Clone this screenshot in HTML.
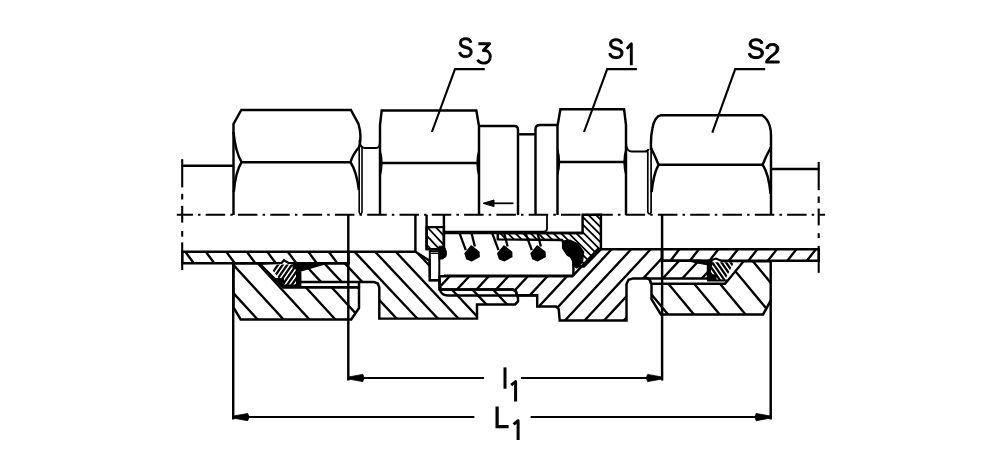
<!DOCTYPE html>
<html><head><meta charset="utf-8"><style>
html,body{margin:0;padding:0;background:#fff;}
body{width:1000px;height:460px;overflow:hidden;font-family:"Liberation Sans",sans-serif;}
svg{display:block;}
</style></head><body>
<svg width="1000" height="460" viewBox="0 0 1000 460"><defs><filter id="soft" x="0" y="0" width="1000" height="460" filterUnits="userSpaceOnUse"><feGaussianBlur stdDeviation="0.35"/></filter><clipPath id="c1"><path d="M182.3 251.8L348.3 251.8L348.3 263.3L182.3 263.3Z"/></clipPath><clipPath id="c2"><path d="M662.0 249.2L818.8 249.2L818.8 260.8L662.0 260.8Z"/></clipPath><clipPath id="c3"><path d="M233.5 263.3L259.8 263.3L283.0 287.2L359.0 287.2L359.0 308.0L351.2 319.5L240.7 319.5L233.5 307.4Z"/></clipPath><clipPath id="c4"><path d="M348.3 251.8L415.4 251.8L429.5 260.8L429.8 280.2L439.5 280.2L439.5 289.5L513.0 289.5L516.0 291.5L517.0 295.2L518.0 298.0L518.0 301.5L515.0 304.4L477.0 304.4L477.0 318.6L379.3 318.6L379.3 287.5L377.8 283.5L374.0 282.0L300.0 282.0L300.0 270.5L325.0 263.3L348.3 263.3Z"/></clipPath><clipPath id="c5"><path d="M439.5 276.3L572.4 276.3L597.8 249.2L662.0 249.2L662.0 260.8L700.0 260.8L708.0 262.0L708.0 278.4L633.0 278.4L628.5 279.8L626.5 284.0L626.5 320.4L559.7 320.4L558.7 309.0L556.0 306.5L537.2 306.5L537.2 295.2L517.0 295.2L516.0 291.5L513.0 289.5L442.0 289.5L439.5 287.0Z"/></clipPath><clipPath id="c6"><path d="M651.5 283.7L725.0 283.7L743.5 261.2L770.7 261.2L770.7 300.6L763.1 314.4L660.9 314.4L651.5 299.1Z"/></clipPath><clipPath id="c7"><path d="M426.6 227.1L443.9 227.1L443.9 249.3L426.6 249.3Z"/></clipPath><clipPath id="c8"><path d="M582.6 214.8L600.9 214.8L600.9 249.2L584.0 266.5L576.0 266.0L562.0 240.0L497.8 239.4L497.8 233.0L582.6 233.0Z"/></clipPath><clipPath id="c9"><path d="M268 264.5 L299 264.5 L299 285 L284 285 Z"/></clipPath><clipPath id="c10"><path d="M709 262.2 L734 262.2 L725 280 L709 280 Z"/></clipPath></defs><rect width="1000" height="460" fill="#fff"/><g filter="url(#soft)"><g stroke="#000" stroke-linecap="butt" stroke-linejoin="miter" fill="none"><path d="M142.8 249.8L154.4 265.3M163.3 249.8L174.9 265.3M183.8 249.8L195.4 265.3M204.3 249.8L215.9 265.3M224.8 249.8L236.4 265.3M245.3 249.8L256.9 265.3M265.8 249.8L277.4 265.3M286.3 249.8L297.9 265.3M306.8 249.8L318.4 265.3M327.3 249.8L338.9 265.3M347.8 249.8L359.4 265.3M368.3 249.8L379.9 265.3M388.8 249.8L400.4 265.3" stroke="#000" stroke-width="2.35" fill="none" clip-path="url(#c1)"/><polygon points="182.3,251.8 348.3,251.8 348.3,263.3 182.3,263.3" fill="none" stroke-width="2.45" /><path d="M622.5 247.2L610.3 262.8M642.0 247.2L629.8 262.8M661.5 247.2L649.3 262.8M681.0 247.2L668.8 262.8M700.5 247.2L688.3 262.8M720.0 247.2L707.8 262.8M739.5 247.2L727.3 262.8M759.0 247.2L746.8 262.8M778.5 247.2L766.3 262.8M798.0 247.2L785.8 262.8M817.5 247.2L805.3 262.8M837.0 247.2L824.8 262.8M856.5 247.2L844.3 262.8" stroke="#000" stroke-width="2.35" fill="none" clip-path="url(#c2)"/><polygon points="662.0,249.2 818.8,249.2 818.8,260.8 662.0,260.8" fill="none" stroke-width="2.45" /><path d="M126.5 261.3L181.8 321.5M152.4 261.3L207.7 321.5M178.3 261.3L233.6 321.5M204.2 261.3L259.5 321.5M230.1 261.3L285.4 321.5M256.0 261.3L311.3 321.5M281.9 261.3L337.2 321.5M307.8 261.3L363.1 321.5M333.7 261.3L389.0 321.5M359.6 261.3L414.9 321.5M385.5 261.3L440.8 321.5M411.4 261.3L466.7 321.5" stroke="#000" stroke-width="2.35" fill="none" clip-path="url(#c3)"/><polygon points="233.5,263.3 259.8,263.3 283.0,287.2 359.0,287.2 359.0,308.0 351.2,319.5 240.7,319.5 233.5,307.4" fill="none" stroke-width="2.45" /><path d="M208.5 249.8L275.0 320.6M229.1 249.8L295.6 320.6M249.7 249.8L316.2 320.6M270.3 249.8L336.8 320.6M290.9 249.8L357.4 320.6M311.5 249.8L378.0 320.6M332.1 249.8L398.6 320.6M352.7 249.8L419.2 320.6M373.3 249.8L439.8 320.6M393.9 249.8L460.4 320.6M414.5 249.8L481.0 320.6M435.1 249.8L501.6 320.6M455.7 249.8L522.2 320.6M476.3 249.8L542.8 320.6M496.9 249.8L563.4 320.6M517.5 249.8L584.0 320.6M538.1 249.8L604.6 320.6M558.7 249.8L625.2 320.6" stroke="#000" stroke-width="2.35" fill="none" clip-path="url(#c4)"/><polygon points="348.3,251.8 415.4,251.8 429.5,260.8 429.8,280.2 439.5,280.2 439.5,289.5 513.0,289.5 516.0,291.5 517.0,295.2 518.0,298.0 518.0,301.5 515.0,304.4 477.0,304.4 477.0,318.6 379.3,318.6 379.3,287.5 377.8,283.5 374.0,282.0 300.0,282.0 300.0,270.5 325.0,263.3 348.3,263.3" fill="none" stroke-width="2.45" /><path d="M439.5 287 Q440 295.4 448 295.4 L537.2 295.4" fill="none" stroke-width="2.45" /><path d="M398.5 247.2L328.6 322.4M418.0 247.2L348.2 322.4M437.6 247.2L367.7 322.4M457.1 247.2L387.3 322.4M476.7 247.2L406.8 322.4M496.2 247.2L426.4 322.4M515.8 247.2L445.9 322.4M535.3 247.2L465.5 322.4M554.9 247.2L485.0 322.4M574.4 247.2L504.6 322.4M594.0 247.2L524.1 322.4M613.5 247.2L543.7 322.4M633.1 247.2L563.2 322.4M652.6 247.2L582.8 322.4M672.2 247.2L602.3 322.4M691.7 247.2L621.9 322.4M711.3 247.2L641.4 322.4M730.8 247.2L661.0 322.4M750.4 247.2L680.5 322.4M769.9 247.2L700.1 322.4M789.5 247.2L719.6 322.4M809.0 247.2L739.2 322.4" stroke="#000" stroke-width="2.35" fill="none" clip-path="url(#c5)"/><polygon points="439.5,276.3 572.4,276.3 597.8,249.2 662.0,249.2 662.0,260.8 700.0,260.8 708.0,262.0 708.0,278.4 633.0,278.4 628.5,279.8 626.5,284.0 626.5,320.4 559.7,320.4 558.7,309.0 556.0,306.5 537.2,306.5 537.2,295.2 517.0,295.2 516.0,291.5 513.0,289.5 442.0,289.5 439.5,287.0" fill="none" stroke-width="2.45" /><path d="M570.6 259.2L618.1 316.4M596.4 259.2L643.9 316.4M622.2 259.2L669.7 316.4M648.0 259.2L695.5 316.4M673.8 259.2L721.3 316.4M699.6 259.2L747.1 316.4M725.4 259.2L772.9 316.4M751.2 259.2L798.7 316.4M777.0 259.2L824.5 316.4M802.8 259.2L850.3 316.4" stroke="#000" stroke-width="2.35" fill="none" clip-path="url(#c6)"/><polygon points="651.5,283.7 725.0,283.7 743.5,261.2 770.7,261.2 770.7,300.6 763.1,314.4 660.9,314.4 651.5,299.1" fill="none" stroke-width="2.45" /><path d="M645 277.8 Q650.7 278 650.7 283.7" fill="none" stroke-width="2.45" /><line x1="283" y1="287.2" x2="359" y2="287.2" stroke-width="2.45" /><line x1="359" y1="287.2" x2="359" y2="282" stroke-width="2.45" /><line x1="415.4" y1="214.8" x2="415.4" y2="251.8" stroke-width="2.45" /><path d="M391.4 225.1L415.8 251.3M399.9 225.1L424.3 251.3M408.4 225.1L432.8 251.3M416.9 225.1L441.3 251.3M425.4 225.1L449.8 251.3M433.9 225.1L458.3 251.3M442.4 225.1L466.8 251.3M450.9 225.1L475.3 251.3M459.4 225.1L483.8 251.3" stroke="#000" stroke-width="1.8" fill="none" clip-path="url(#c7)"/><polygon points="426.6,227.1 443.9,227.1 443.9,249.3 426.6,249.3" fill="none" stroke-width="2.45" /><line x1="426.6" y1="214.8" x2="426.6" y2="249.5" stroke-width="2.45" /><line x1="443.9" y1="214.8" x2="443.9" y2="249.5" stroke-width="2.45" /><polygon points="429.8,251.2 439.3,251.2 439.3,280.2 429.8,280.2" fill="none" stroke-width="2.0" /><line x1="430.5" y1="253.4" x2="438.6" y2="253.4" stroke-width="1.2" /><line x1="443.9" y1="233.0" x2="582.6" y2="233.0" stroke-width="2.45" /><line x1="443.9" y1="275.6" x2="572.4" y2="275.6" stroke-width="2.45" /><path d="M547 214.8 L547 228.5 Q547 231.6 544 231.6 L444 231.6" fill="none" stroke-width="1.8" /><path d="M426.6 212.8L482.3 268.5M434.2 212.8L489.9 268.5M441.8 212.8L497.5 268.5M449.4 212.8L505.1 268.5M457.0 212.8L512.7 268.5M464.6 212.8L520.3 268.5M472.2 212.8L527.9 268.5M479.8 212.8L535.5 268.5M487.4 212.8L543.1 268.5M495.0 212.8L550.7 268.5M502.6 212.8L558.3 268.5M510.2 212.8L565.9 268.5M517.8 212.8L573.5 268.5M525.4 212.8L581.1 268.5M533.0 212.8L588.7 268.5M540.6 212.8L596.3 268.5M548.2 212.8L603.9 268.5M555.8 212.8L611.5 268.5M563.4 212.8L619.1 268.5M571.0 212.8L626.7 268.5M578.6 212.8L634.3 268.5M586.2 212.8L641.9 268.5M593.8 212.8L649.5 268.5M601.4 212.8L657.1 268.5M609.0 212.8L664.7 268.5M616.6 212.8L672.3 268.5" stroke="#000" stroke-width="1.8" fill="none" clip-path="url(#c8)"/><polygon points="582.6,214.8 600.9,214.8 600.9,249.2 584.0,266.5 576.0,266.0 562.0,240.0 497.8,239.4 497.8,233.0 582.6,233.0" fill="none" stroke-width="2.45" /><line x1="573.4" y1="259.5" x2="573.4" y2="276" stroke-width="2.45" /><line x1="459.6" y1="233.4" x2="465.8" y2="250.2" stroke-width="2.3" /><line x1="471.7" y1="233.8" x2="474.90000000000003" y2="246.5" stroke-width="2.3" /><polygon points="465.1,253.5 471.3,246.0 478.9,252.0 479.1,256.7 471.8,260.7 466.8,258.7" fill="#000" stroke-width="1.5" stroke-linejoin="round"/><line x1="492.3" y1="233.4" x2="498.5" y2="250.2" stroke-width="2.3" /><line x1="504.4" y1="233.8" x2="507.6" y2="246.5" stroke-width="2.3" /><polygon points="497.8,253.5 504.0,246.0 511.6,252.0 511.8,256.7 504.5,260.7 499.5,258.7" fill="#000" stroke-width="1.5" stroke-linejoin="round"/><line x1="525.5999999999999" y1="233.4" x2="531.8" y2="250.2" stroke-width="2.3" /><line x1="537.6999999999999" y1="233.8" x2="540.9" y2="246.5" stroke-width="2.3" /><polygon points="531.1,253.5 537.3,246.0 544.9,252.0 545.1,256.7 537.8,260.7 532.8,258.7" fill="#000" stroke-width="1.5" stroke-linejoin="round"/><path d="M439 246.2 L444 246.2 Q447.8 251.5 446 256.5 Q443 259.8 439 259.2 Z" fill="#000" stroke-width="1" /><path d="M562.5 241 L570 240 L578 244 L583.7 252 L582.5 262 L577 268 L573.4 266 L572.8 258.5 L567 255 L562.5 248 Z" fill="#000" stroke-width="1.2" /><path d="M259.8 263.8 L281.5 263 L284 260.2 L288.5 263 L300 263 L300.3 285.6 L281.5 285.6 Z" fill="#fff" stroke-width="2.2" /><path d="M262.0 288L280.0 262M266.6 288L284.6 262M271.2 288L289.2 262M275.8 288L293.8 262M280.4 288L298.4 262M285.0 288L303.0 262M289.6 288L307.6 262M294.2 288L312.2 262M298.8 288L316.8 262" stroke="#000" stroke-width="2.3" clip-path="url(#c9)"/><rect x="296" y="263" width="4.5" height="23" fill="#000" stroke="none"/><path d="M275 278 L284 278 L284 285.6 L281.5 285.6 Z" fill="#000" stroke="none"/><path d="M293 262.5 L325 263.3 L300 270.5 L293 268 Z" fill="#000" stroke-width="1" /><path d="M708 261.2 L716 258.6 L722 261.2 L743.5 261.2 L727.7 280.5 L708 280.5 Z" fill="#fff" stroke-width="2.0" /><path d="M700.0 258L718.0 284M704.6 258L722.6 284M709.2 258L727.2 284M713.8 258L731.8 284M718.4 258L736.4 284M723.0 258L741.0 284M727.6 258L745.6 284M732.2 258L750.2 284M736.8 258L754.8 284" stroke="#000" stroke-width="2.3" clip-path="url(#c10)"/><rect x="707.5" y="261" width="3.5" height="19.5" fill="#000" stroke="none"/><rect x="707.5" y="274.3" width="9" height="6.5" fill="#000" stroke="none"/><path d="M712 260 L698 260.5 L691 261.6 L698 263.2 L712 265.5 Z" fill="#000" stroke-width="1" /><line x1="182" y1="165.8" x2="233.5" y2="165.8" stroke-width="2.45" /><line x1="771" y1="169" x2="819.5" y2="169" stroke-width="2.45" /><path d="M233.5 215 L233.5 124 L241.3 110 L350.9 110 L358.5 124 Q362 136 359.2 147" fill="none" stroke-width="2.45" /><line x1="241.6" y1="162.2" x2="350.5" y2="162.2" stroke-width="2.45" /><path d="M233.5 132 Q235.5 152 241.6 162.2 Q235.5 172 233.8 192" fill="none" stroke-width="2.45" /><path d="M359.2 147 Q353 154 350.5 162.2 Q356.5 171 358.9 190" fill="none" stroke-width="2.45" /><path d="M359.2 147 L359.2 212.5 Q360.6 215.5 362 212.5 L362 148" fill="none" stroke-width="1.6" /><path d="M359.5 140 Q360 148 364.5 148 L376 148 Q380 148 380 142" fill="none" stroke-width="2" /><path d="M380 215 L380 125 L381.7 110.4 L476.3 110.4 L479 126 L479 215" fill="none" stroke-width="2.45" /><line x1="380" y1="163" x2="479" y2="163" stroke-width="2.45" /><path d="M479 126 L514.5 126 Q518 126 518 130 L518 215" fill="none" stroke-width="2.45" /><line x1="518" y1="134.3" x2="535.5" y2="134.3" stroke-width="2.45" /><path d="M535.5 215 L535.5 129 Q535.5 125 540 125 L557.5 125" fill="none" stroke-width="2.45" /><path d="M557.5 215 L557.5 126 L560.4 109.3 L624.1 109.3 L626 125 L626 215" fill="none" stroke-width="2.45" /><line x1="557.5" y1="162" x2="626" y2="162" stroke-width="2.45" /><path d="M626 144 Q626.5 151.6 632 151.6 L645 151.6 Q648 151.6 648.5 149" fill="none" stroke-width="2" /><path d="M647.8 151.6 L647.8 212.3 Q649.4 215.3 651.1 212.3 L651.1 150" fill="none" stroke-width="1.7" /><path d="M651.1 150 Q650.4 138 652.3 129 Q654.5 116 661 115.2 L762.2 115.2 Q767.5 118.5 769.8 126 Q771.2 131 771 137 L771 215" fill="none" stroke-width="2.45" /><line x1="659" y1="164.8" x2="762.6" y2="164.8" stroke-width="2.45" /><path d="M651.1 148 Q655.5 157 658.5 164.8 Q653.5 174 651.6 192" fill="none" stroke-width="2.45" /><path d="M771 147 Q766 156 762.6 164.8 Q768.5 173 770.6 194" fill="none" stroke-width="2.45" /><path d="M380.0 149.5 Q384.2 163.0 380.0 177.0" fill="#000" stroke-width="1.2" /><path d="M479.0 149.5 Q474.8 163.0 479.0 177.0" fill="#000" stroke-width="1.2" /><path d="M557.5 148.5 Q561.7 162.0 557.5 176.0" fill="#000" stroke-width="1.2" /><path d="M626.0 148.5 Q621.8 162.0 626.0 176.0" fill="#000" stroke-width="1.2" /><line x1="492" y1="203.3" x2="513.5" y2="203.3" stroke-width="1.8" /><polygon points="483.0,203.3 494.0,200.0 494.0,206.6" fill="#000" stroke-width="1" /><line x1="176.8" y1="214.8" x2="825" y2="214.8" stroke-width="2.1" stroke-dasharray="19.5 5.1 2.5 5.2" stroke-dashoffset="3.4"/><line x1="182.2" y1="159.2" x2="182.2" y2="187.4" stroke-width="2.1" /><line x1="182.2" y1="193.8" x2="182.2" y2="199.5" stroke-width="2.1" /><line x1="182.2" y1="205.8" x2="182.2" y2="222.6" stroke-width="2.1" /><line x1="182.2" y1="231" x2="182.2" y2="236.7" stroke-width="2.1" /><line x1="182.2" y1="242.4" x2="182.2" y2="270" stroke-width="2.1" /><line x1="818.7" y1="161.9" x2="818.7" y2="190.2" stroke-width="2.1" /><line x1="818.7" y1="196.5" x2="818.7" y2="202.9" stroke-width="2.1" /><line x1="818.7" y1="208.5" x2="818.7" y2="225.4" stroke-width="2.1" /><line x1="818.7" y1="233.2" x2="818.7" y2="238.1" stroke-width="2.1" /><line x1="818.7" y1="245.9" x2="818.7" y2="272.8" stroke-width="2.1" /><line x1="233.2" y1="263.5" x2="233.2" y2="419.5" stroke-width="2.45" /><line x1="770.7" y1="300" x2="770.7" y2="419.5" stroke-width="2.45" /><line x1="348.3" y1="214.8" x2="348.3" y2="380.5" stroke-width="2.45" /><line x1="662.1" y1="214.8" x2="662.1" y2="380.5" stroke-width="2.45" /><line x1="348.3" y1="378" x2="484" y2="378" stroke-width="2" /><line x1="521" y1="378" x2="662.1" y2="378" stroke-width="2" /><line x1="233.2" y1="417.1" x2="474.4" y2="417.1" stroke-width="2" /><line x1="530.6" y1="417.1" x2="770.7" y2="417.1" stroke-width="2" /><polygon points="348.3,377.0 362.8,374.4 364.1,378.0 362.8,381.6 348.3,379.0" fill="#000" stroke-width="0.8" /><polygon points="662.1,377.0 647.6,374.4 646.3,378.0 647.6,381.6 662.1,379.0" fill="#000" stroke-width="0.8" /><polygon points="233.2,416.1 247.7,413.5 249.0,417.1 247.7,420.7 233.2,418.1" fill="#000" stroke-width="0.8" /><polygon points="770.7,416.1 756.2,413.5 754.9,417.1 756.2,420.7 770.7,418.1" fill="#000" stroke-width="0.8" /><polyline points="484.8,69.1 455.0,69.1 431.9,132.0" fill="none" stroke-width="2.1" /><polyline points="636.9,69.1 607.2,69.1 584.0,132.0" fill="none" stroke-width="2.1" /><polyline points="765.2,69.1 735.2,69.1 712.3,132.6" fill="none" stroke-width="2.1" /><path d="M478.4 43.8 L489.6 43.8 L483.3 50.6 C488.6 50.2 490.5 53.6 490.3 56.9 C490.1 61 487 63.1 483.8 63.1 C481 63.1 478.7 61.8 477.4 59.8" stroke-width="2.9" fill="none" stroke-linejoin="round"/><path d="M626.8 48.9L631.3 43.8L631.3 65.2" stroke-width="2.9" stroke-linejoin="round" fill="none"/><line x1="505" y1="367.4" x2="505" y2="388.7" stroke-width="3"/><path d="M511.2 385.2L515.6 381.6L515.6 401.4" stroke-width="3" stroke-linejoin="round" fill="none"/><path d="M497.1 406.4L497.1 426.7L508.6 426.7" stroke-width="3.2" fill="none"/><path d="M513.6 424.4L518.1 420.6L518.1 440.1" stroke-width="3" stroke-linejoin="round" fill="none"/></g><g fill="#000"><path d="M472.15 51.97Q472.15 54.63 470.42 56.09Q468.68 57.55 465.54 57.55Q459.68 57.55 458.75 52.66L460.85 52.16Q461.22 53.89 462.40 54.70Q463.58 55.52 465.61 55.52Q467.72 55.52 468.86 54.65Q470.00 53.78 470.00 52.10Q470.00 51.16 469.64 50.57Q469.29 49.99 468.64 49.60Q467.99 49.22 467.09 48.96Q466.19 48.70 465.10 48.40Q463.21 47.90 462.22 47.39Q461.24 46.89 460.67 46.26Q460.10 45.64 459.80 44.81Q459.50 43.98 459.50 42.90Q459.50 40.43 461.07 39.09Q462.65 37.75 465.58 37.75Q468.31 37.75 469.75 38.75Q471.20 39.76 471.77 42.17L469.64 42.62Q469.29 41.10 468.30 40.41Q467.31 39.72 465.56 39.72Q463.64 39.72 462.63 40.48Q461.61 41.25 461.61 42.76Q461.61 43.65 462.01 44.23Q462.40 44.81 463.14 45.21Q463.88 45.62 466.08 46.20Q466.82 46.41 467.55 46.62Q468.29 46.83 468.96 47.12Q469.63 47.42 470.21 47.81Q470.80 48.21 471.23 48.78Q471.66 49.36 471.91 50.14Q472.15 50.91 472.15 51.97Z" stroke="#000" stroke-width="0.9" stroke-linejoin="round"/><path d="M623.05 53.04Q623.05 55.71 621.20 57.18Q619.35 58.65 615.99 58.65Q609.74 58.65 608.75 53.74L610.99 53.23Q611.38 54.97 612.64 55.79Q613.90 56.61 616.08 56.61Q618.32 56.61 619.54 55.73Q620.76 54.86 620.76 53.17Q620.76 52.23 620.38 51.64Q619.99 51.05 619.30 50.66Q618.61 50.28 617.65 50.02Q616.69 49.76 615.53 49.45Q613.50 48.95 612.46 48.44Q611.41 47.93 610.80 47.31Q610.19 46.68 609.87 45.85Q609.55 45.01 609.55 43.92Q609.55 41.44 611.23 40.09Q612.91 38.75 616.04 38.75Q618.95 38.75 620.49 39.76Q622.03 40.77 622.65 43.20L620.37 43.65Q619.99 42.11 618.94 41.42Q617.88 40.73 616.02 40.73Q613.97 40.73 612.89 41.49Q611.81 42.26 611.81 43.79Q611.81 44.68 612.22 45.26Q612.64 45.85 613.43 46.25Q614.22 46.66 616.57 47.25Q617.36 47.45 618.14 47.66Q618.93 47.88 619.64 48.17Q620.36 48.47 620.98 48.86Q621.61 49.26 622.07 49.84Q622.53 50.42 622.79 51.20Q623.05 51.98 623.05 53.04Z" stroke="#000" stroke-width="0.9" stroke-linejoin="round"/><path d="M763.45 53.04Q763.45 55.71 761.48 57.18Q759.52 58.65 755.95 58.65Q749.31 58.65 748.25 53.74L750.64 53.23Q751.05 54.97 752.39 55.79Q753.73 56.61 756.04 56.61Q758.42 56.61 759.72 55.73Q761.01 54.86 761.01 53.17Q761.01 52.23 760.61 51.64Q760.20 51.05 759.47 50.66Q758.73 50.28 757.71 50.02Q756.69 49.76 755.46 49.45Q753.30 48.95 752.19 48.44Q751.07 47.93 750.43 47.31Q749.78 46.68 749.44 45.85Q749.10 45.01 749.10 43.92Q749.10 41.44 750.89 40.09Q752.67 38.75 756.00 38.75Q759.09 38.75 760.73 39.76Q762.37 40.77 763.02 43.20L760.60 43.65Q760.20 42.11 759.08 41.42Q757.96 40.73 755.97 40.73Q753.79 40.73 752.65 41.49Q751.50 42.26 751.50 43.79Q751.50 44.68 751.94 45.26Q752.39 45.85 753.23 46.25Q754.06 46.66 756.57 47.25Q757.40 47.45 758.24 47.66Q759.07 47.88 759.83 48.17Q760.59 48.47 761.25 48.86Q761.92 49.26 762.41 49.84Q762.90 50.42 763.17 51.20Q763.45 51.98 763.45 53.04Z" stroke="#000" stroke-width="0.9" stroke-linejoin="round"/><path d="M765.65 63.05V61.31Q766.39 59.71 767.45 58.48Q768.51 57.25 769.69 56.26Q770.86 55.26 772.01 54.42Q773.16 53.57 774.09 52.72Q775.01 51.87 775.58 50.93Q776.15 50.00 776.15 48.82Q776.15 47.23 775.17 46.36Q774.19 45.48 772.44 45.48Q770.77 45.48 769.69 46.34Q768.62 47.19 768.43 48.74L765.77 48.51Q766.06 46.19 767.84 44.82Q769.63 43.45 772.44 43.45Q775.52 43.45 777.17 44.83Q778.83 46.20 778.83 48.74Q778.83 49.86 778.29 50.97Q777.75 52.08 776.68 53.20Q775.60 54.31 772.58 56.64Q770.92 57.92 769.93 58.96Q768.95 59.99 768.51 60.95H779.15V63.05Z" stroke="#000" stroke-width="0.9" stroke-linejoin="round"/></g></g></svg>
</body></html>
